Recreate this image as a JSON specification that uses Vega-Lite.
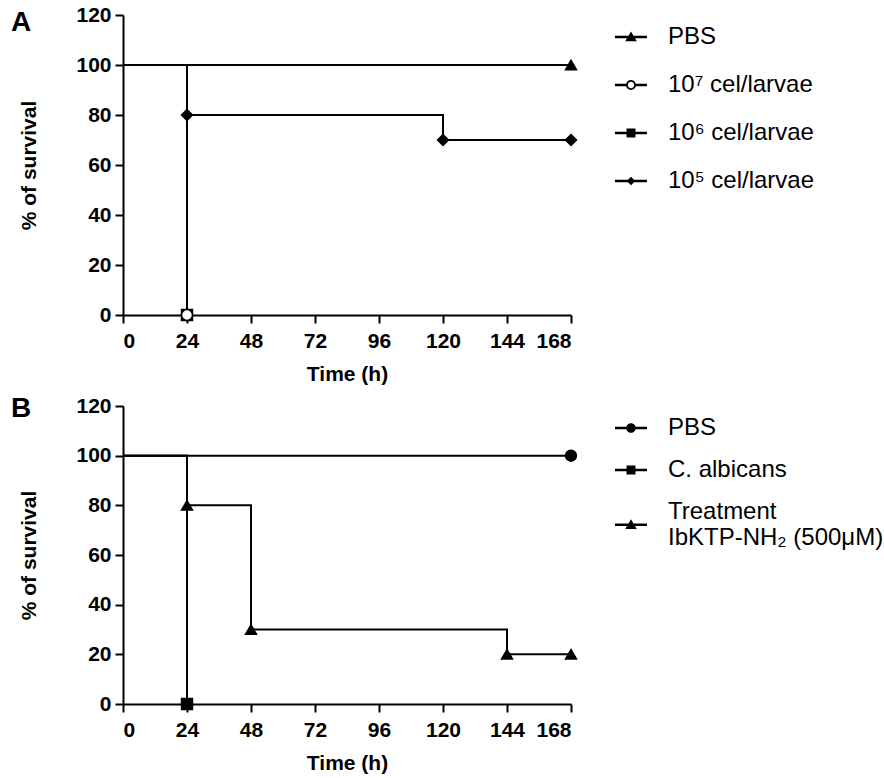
{
  "$schema": "https://vega.github.io/schema/vega-lite/v6.json",
  "background": "white",
  "padding": {"left": 10, "top": 4, "right": 2, "bottom": 2},
  "datasets": {
    "lineA": [
      {"series": "PBS", "t": 0, "s": 100}, {"series": "PBS", "t": 168, "s": 100},
      {"series": "10⁷ cel/larvae", "t": 0, "s": 100}, {"series": "10⁷ cel/larvae", "t": 24, "s": 0},
      {"series": "10⁶ cel/larvae", "t": 0, "s": 100}, {"series": "10⁶ cel/larvae", "t": 24, "s": 0},
      {"series": "10⁵ cel/larvae", "t": 0, "s": 100}, {"series": "10⁵ cel/larvae", "t": 24, "s": 80},
      {"series": "10⁵ cel/larvae", "t": 120, "s": 70}, {"series": "10⁵ cel/larvae", "t": 168, "s": 70}
    ],
    "ptsA": [
      {"series": "PBS", "t": 168, "s": 100},
      {"series": "10⁶ cel/larvae", "t": 24, "s": 0},
      {"series": "10⁷ cel/larvae", "t": 24, "s": 0},
      {"series": "10⁵ cel/larvae", "t": 24, "s": 80},
      {"series": "10⁵ cel/larvae", "t": 120, "s": 70},
      {"series": "10⁵ cel/larvae", "t": 168, "s": 70}
    ],
    "lineB": [
      {"series": "PBS", "t": 0, "s": 100}, {"series": "PBS", "t": 168, "s": 100},
      {"series": "C. albicans", "t": 0, "s": 100}, {"series": "C. albicans", "t": 24, "s": 0},
      {"series": "Treatment IbKTP-NH₂ (500μM)", "t": 0, "s": 100},
      {"series": "Treatment IbKTP-NH₂ (500μM)", "t": 24, "s": 80},
      {"series": "Treatment IbKTP-NH₂ (500μM)", "t": 48, "s": 30},
      {"series": "Treatment IbKTP-NH₂ (500μM)", "t": 144, "s": 20},
      {"series": "Treatment IbKTP-NH₂ (500μM)", "t": 168, "s": 20}
    ],
    "ptsB": [
      {"series": "PBS", "t": 168, "s": 100},
      {"series": "C. albicans", "t": 24, "s": 0},
      {"series": "Treatment IbKTP-NH₂ (500μM)", "t": 24, "s": 80},
      {"series": "Treatment IbKTP-NH₂ (500μM)", "t": 48, "s": 30},
      {"series": "Treatment IbKTP-NH₂ (500μM)", "t": 144, "s": 20},
      {"series": "Treatment IbKTP-NH₂ (500μM)", "t": 168, "s": 20}
    ]
  },
  "config": {
    "view": {"stroke": null},
    "font": "Liberation Sans",
    "axis": {
      "grid": false,
      "domainColor": "black", "domainWidth": 2,
      "tickColor": "black", "tickWidth": 2, "tickSize": 8,
      "labelFont": "Liberation Sans", "labelFontSize": 21, "labelFontWeight": "bold", "labelColor": "black",
      "titleFont": "Liberation Sans", "titleFontSize": 21, "titleFontWeight": "bold", "titleColor": "black"
    },
    "axisX": {"labelPadding": 7, "titlePadding": 12},
    "axisY": {"labelPadding": 4, "titlePadding": 36},
    "legend": {
      "orient": "right", "offset": 34, "padding": 5,
      "labelFont": "Liberation Sans", "labelFontSize": 24, "labelColor": "black", "labelLimit": 400,
      "labelOffset": 20, "symbolSize": 1024, "symbolOpacity": 1
    },
    "title": {"font": "Liberation Sans", "fontSize": 28, "fontWeight": "bold", "color": "black"}
  },
  "resolve": {"scale": {"shape": "independent", "fill": "independent"}, "legend": {"shape": "independent", "fill": "independent"}},
  "spacing": 11,
  "vconcat": [
    {
      "width": 448, "height": 300,
      "title": {"text": "A", "anchor": "start", "frame": "bounds", "dx": -8, "dy": 37},
      "resolve": {"scale": {"shape": "independent"}},
      "layer": [
        {
          "data": {"name": "lineA"},
          "mark": {"type": "line", "interpolate": "step-after", "color": "black", "strokeWidth": 2, "clip": false},
          "encoding": {
            "x": {"field": "t", "type": "quantitative", "scale": {"domain": [0, 168], "nice": false},
                  "axis": {"values": [0, 24, 48, 72, 96, 120, 144, 168], "title": "Time (h)"}},
            "y": {"field": "s", "type": "quantitative", "scale": {"domain": [0, 120], "nice": false},
                  "axis": {"values": [0, 20, 40, 60, 80, 100, 120], "title": "% of survival"}},
            "detail": {"field": "series", "type": "nominal"}
          }
        },
        {
          "data": {"name": "ptsA"},
          "mark": {"type": "point", "filled": true, "stroke": "black", "strokeWidth": 1.5, "size": 120, "opacity": 1, "clip": false},
          "encoding": {
            "x": {"field": "t", "type": "quantitative"},
            "y": {"field": "s", "type": "quantitative"},
            "shape": {
              "field": "series", "type": "nominal",
              "scale": {"domain": ["PBS", "10⁷ cel/larvae", "10⁶ cel/larvae", "10⁵ cel/larvae"],
                        "range": ["triangle-up", "circle", "square", "diamond"]},
              "legend": null
            },
            "fill": {
              "field": "series", "type": "nominal",
              "scale": {"domain": ["PBS", "10⁷ cel/larvae", "10⁶ cel/larvae", "10⁵ cel/larvae"],
                        "range": ["black", "white", "black", "black"]},
              "legend": null
            }
          }
        },
        {
          "data": {"name": "ptsA"},
          "mark": {"type": "point", "filled": true, "fill": "black", "opacity": 0, "clip": false},
          "encoding": {
            "x": {"field": "t", "type": "quantitative"},
            "y": {"field": "s", "type": "quantitative"},
            "shape": {
              "field": "series", "type": "nominal",
              "scale": {"domain": ["PBS", "10⁷ cel/larvae", "10⁶ cel/larvae", "10⁵ cel/larvae"],
                        "range": ["M-1,-0.08H1V0.08H-1ZM-0.36,0.27L0,-0.35L0.36,0.27Z",
                                  "M-1,-0.08H-0.28V0.08H-1ZM0.28,-0.08H1V0.08H0.28ZM-0.31,0A0.31,0.31,0,1,1,0.31,0A0.31,0.31,0,1,1,-0.31,0ZM-0.2,0A0.2,0.2,0,1,0,0.2,0A0.2,0.2,0,1,0,-0.2,0Z",
                                  "M-1,-0.08H1V0.08H-1ZM-0.28,-0.28H0.28V0.28H-0.28Z",
                                  "M-1,-0.08H1V0.08H-1ZM-0.26,0L0,-0.27L0.26,0L0,0.27Z"]},
              "legend": {"title": null, "rowPadding": 19}
            }
          }
        }
      ]
    },
    {
      "width": 448, "height": 298,
      "title": {"text": "B", "anchor": "start", "frame": "bounds", "dx": -8, "dy": 32},
      "resolve": {"scale": {"shape": "independent"}},
      "layer": [
        {
          "data": {"name": "lineB"},
          "mark": {"type": "line", "interpolate": "step-after", "color": "black", "strokeWidth": 2, "clip": false},
          "encoding": {
            "x": {"field": "t", "type": "quantitative", "scale": {"domain": [0, 168], "nice": false},
                  "axis": {"values": [0, 24, 48, 72, 96, 120, 144, 168], "title": "Time (h)"}},
            "y": {"field": "s", "type": "quantitative", "scale": {"domain": [0, 120], "nice": false},
                  "axis": {"values": [0, 20, 40, 60, 80, 100, 120], "title": "% of survival"}},
            "detail": {"field": "series", "type": "nominal"}
          }
        },
        {
          "data": {"name": "ptsB"},
          "mark": {"type": "point", "filled": true, "stroke": "black", "strokeWidth": 1.5, "size": 120, "opacity": 1, "fill": "black", "clip": false},
          "encoding": {
            "x": {"field": "t", "type": "quantitative"},
            "y": {"field": "s", "type": "quantitative"},
            "shape": {
              "field": "series", "type": "nominal",
              "scale": {"domain": ["PBS", "C. albicans", "Treatment IbKTP-NH₂ (500μM)"],
                        "range": ["circle", "square", "triangle-up"]},
              "legend": null
            }
          }
        },
        {
          "data": {"name": "ptsB"},
          "mark": {"type": "point", "filled": true, "fill": "black", "opacity": 0, "clip": false},
          "encoding": {
            "x": {"field": "t", "type": "quantitative"},
            "y": {"field": "s", "type": "quantitative"},
            "shape": {
              "field": "series", "type": "nominal",
              "scale": {"domain": ["PBS", "C. albicans", "Treatment IbKTP-NH₂ (500μM)"],
                        "range": ["M-1,-0.08H1V0.08H-1ZM-0.3,0A0.3,0.3,0,1,1,0.3,0A0.3,0.3,0,1,1,-0.3,0Z",
                                  "M-1,-0.08H1V0.08H-1ZM-0.28,-0.28H0.28V0.28H-0.28Z",
                                  "M-1,0.72H1V0.88H-1ZM-0.36,1.07L0,0.45L0.36,1.07Z"]},
              "legend": {
                "title": null, "rowPadding": 13,
                "labelExpr": "datum.label === 'Treatment IbKTP-NH₂ (500μM)' ? ['Treatment', 'IbKTP-NH₂ (500μM)'] : datum.label"
              }
            }
          }
        }
      ]
    }
  ]
}
